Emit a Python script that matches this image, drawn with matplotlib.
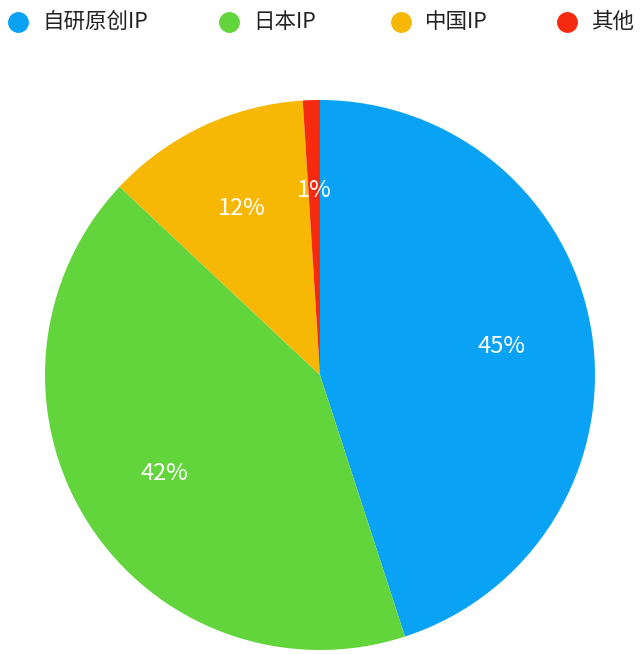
import matplotlib.pyplot as plt
from matplotlib.lines import Line2D

plt.rcParams['font.family'] = ['Noto Sans CJK SC', 'DejaVu Sans']

labels = ['自研原创IP', '日本IP', '中国IP', '其他']
values = [45, 42, 12, 1]
colors = ['#0aa2f5', '#63d53c', '#f7b705', '#f52a0f']

fig = plt.figure(figsize=(6.4, 6.54), dpi=100)
ax = fig.add_axes([45 / 640, 4 / 654, 550 / 640, 550 / 654])

wedges, texts, autotexts = ax.pie(
    values, colors=colors, startangle=90, counterclock=False,
    autopct='%d%%', pctdistance=0.67,
    textprops={'color': 'white', 'fontsize': 17},
    wedgeprops={'linewidth': 0})
ax.set_xlim(-1, 1)
ax.set_ylim(-1, 1)
ax.set_aspect('equal')

# legend along the top
marker_x = [18, 229, 401, 567]
for x, lab, c in zip(marker_x, labels, colors):
    fig.add_artist(Line2D([x / 640], [1 - 22 / 654], marker='o', markersize=14,
                          color=c, linestyle='none', transform=fig.transFigure))
    fig.text((x + 24) / 640, 1 - 22 / 654, lab, fontsize=15.5, va='center',
             ha='left', color='#222222')

fig.savefig('out.png', dpi=100)
